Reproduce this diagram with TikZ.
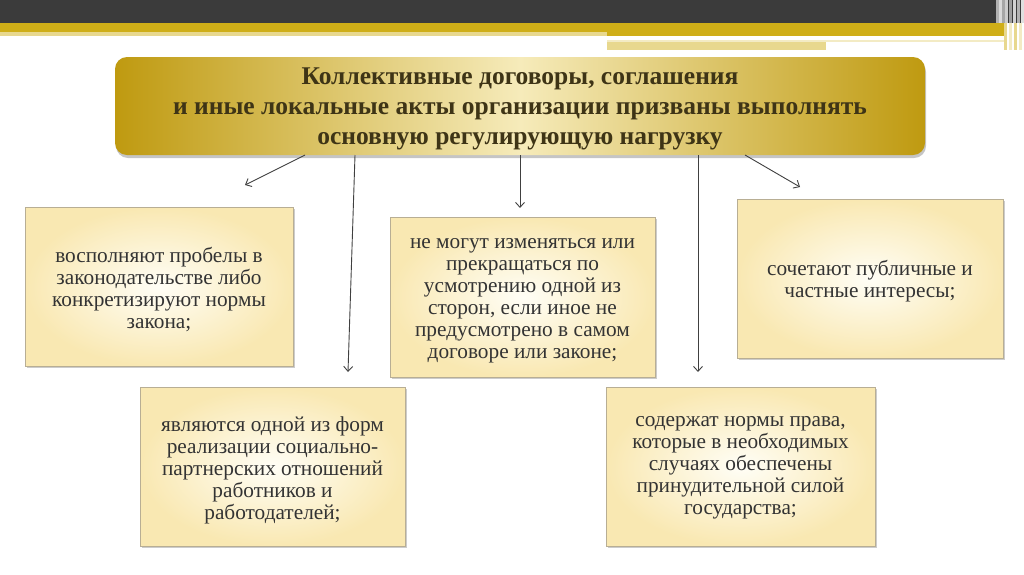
\documentclass[tikz,border=0pt]{standalone}
\usepackage{fontspec}
\setmainfont{Liberation Serif}
\usetikzlibrary{arrows.meta,shadows}
\definecolor{darkbar}{HTML}{3B3B3B}
\definecolor{gold}{HTML}{CFAE18}
\definecolor{lightgold}{HTML}{E8D88E}
\definecolor{paleg}{HTML}{F3EBC4}
\definecolor{gdark}{HTML}{BF9A10}
\definecolor{glight}{HTML}{F6EBBA}
\definecolor{htext}{HTML}{3E3416}
\definecolor{btext}{HTML}{333333}
\definecolor{binner}{HTML}{FFFEF6}
\definecolor{bouter}{HTML}{F9E8B2}
\definecolor{bline}{HTML}{B8AE94}
\definecolor{arr}{HTML}{404040}
\tikzset{
  headerbox/.style={rounded corners=12pt, left color=gdark, right color=gdark, middle color=glight,
    drop shadow={opacity=0.45, shadow xshift=1pt, shadow yshift=-3pt},
    minimum width=810pt, minimum height=98pt, inner sep=0pt},
  headertext/.style={text=htext, align=center, font=\fontsize{25.5}{30}\selectfont\bfseries, inner sep=0pt},
  infobox/.style={draw=bline, line width=0.6pt, shading=radial, inner color=binner, outer color=bouter,
    drop shadow={opacity=0.4, shadow xshift=2pt, shadow yshift=-2pt}, inner sep=0pt},
  infotext/.style={text=btext, align=center, font=\fontsize{21.3}{22}\selectfont, inner sep=0pt},
  conn/.style={draw=arr, line width=0.9pt, -{Straight Barb[length=5pt,width=9pt]}}
}
\begin{document}
\begin{tikzpicture}[x=1pt,y=-1pt]
\useasboundingbox (0,0) rectangle (1024,574);
\fill[white] (0,0) rectangle (1024,574);
% top decoration
\fill[darkbar] (0,0) rectangle (1024,23);
\fill[gold] (0,23) rectangle (1004,32);
\fill[lightgold] (0,32) rectangle (607,36);
\fill[gold] (607,32) rectangle (1004,36);
\fill[paleg] (607,40) rectangle (1004,42);
\fill[lightgold] (607,42) rectangle (826,50);
\foreach \x/\c in {996/gray!60,999/gray!30,1002/gray!70,1005/gray!40,1009/gray!75,1013/gray!35,1017/gray!60,1021/gray!25}
  \fill[\c] (\x,0) rectangle ++(2.5,23);
\foreach \x/\c in {1004/lightgold,1009/paleg,1014/lightgold,1019/paleg}
  \fill[\c] (\x,23) rectangle ++(3,27);

% header
\node[headerbox] (h) at (520,106) {};
\node[headertext] (ht) at ([yshift=-3pt]h.center) {Коллективные договоры, соглашения\\
и иные локальные акты организации призваны выполнять\\
основную регулирующую нагрузку};

% boxes
\node[infobox, minimum width=268pt, minimum height=159pt] (b1) at (159,286.5) {};
\node[infotext] (t1) at ([yshift=-3.5pt]b1.center)
  {восполняют пробелы в\\законодательстве либо\\конкретизируют нормы\\закона;};
\node[infobox, minimum width=265pt, minimum height=160pt] (b2) at (522.5,297) {};
\node[infotext] (t2) at ([yshift=-3.5pt]b2.center)
  {не могут изменяться или\\прекращаться по\\усмотрению одной из\\сторон, если иное не\\предусмотрено в самом\\договоре или законе;};
\node[infobox, minimum width=266pt, minimum height=159pt] (b3) at (870,278.5) {};
\node[infotext] (t3) at ([yshift=-2.5pt]b3.center)
  {сочетают публичные и\\частные интересы;};
\node[infobox, minimum width=265pt, minimum height=159pt] (b4) at (272.5,466.5) {};
\node[infotext] (t4) at ([yshift=-3.5pt]b4.center)
  {являются одной из форм\\реализации социально-\\партнерских отношений\\работников и\\работодателей;};
\node[infobox, minimum width=269pt, minimum height=159pt] (b5) at (740.5,466.5) {};
\node[infotext] (t5) at ([yshift=-1.5pt]b5.center)
  {содержат нормы права,\\которые в необходимых\\случаях обеспечены\\принудительной силой\\государства;};

% connectors
\coordinate (s1) at (305,155); \coordinate (e1) at (245,185);
\coordinate (s2) at (355,155); \coordinate (e2) at (348,372);
\coordinate (s3) at (520,155); \coordinate (e3) at (520,208);
\coordinate (s4) at (698,155); \coordinate (e4) at (698,372);
\coordinate (s5) at (745,155); \coordinate (e5) at (800,187);
\draw[conn] (s1) -- (e1);
\draw[conn] (s2) -- (e2);
\draw[conn] (s3) -- (e3);
\draw[conn] (s4) -- (e4);
\draw[conn] (s5) -- (e5);
\end{tikzpicture}
\end{document}
